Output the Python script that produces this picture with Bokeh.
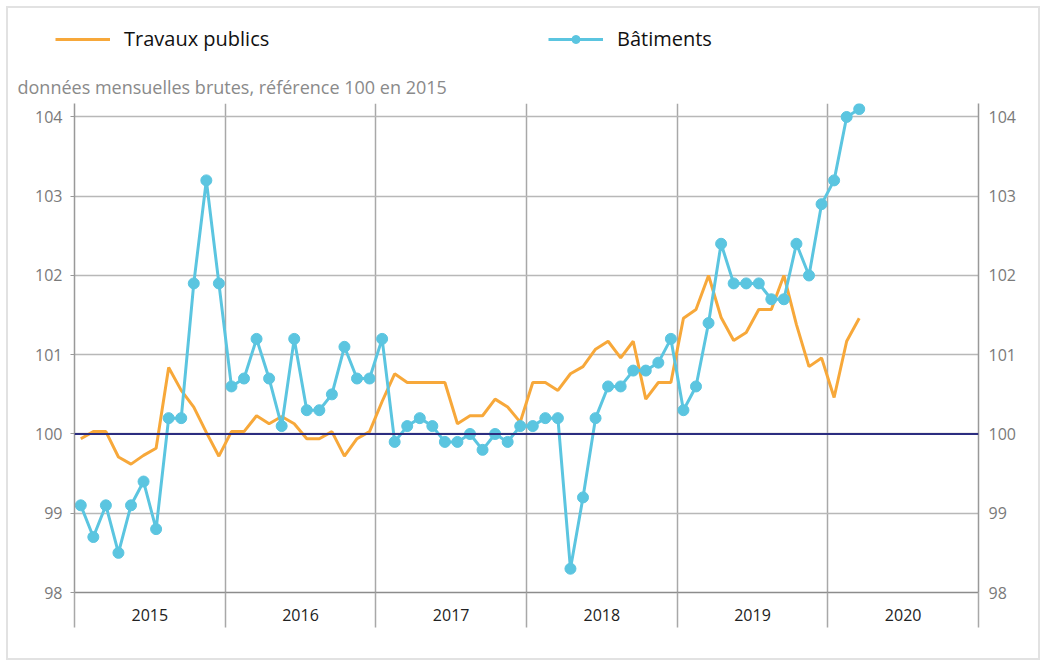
from bokeh.plotting import figure
from bokeh.layouts import column
from bokeh.models import (Range1d, LinearAxis, FixedTicker, Legend, LegendItem,
                          Label, Span)
from bokeh.embed import file_html
from bokeh.resources import INLINE

years = [2015, 2016, 2017, 2018, 2019, 2020]
y_ticks = [98, 99, 100, 101, 102, 103, 104]

travaux_publics = [
    99.94, 100.03, 100.03, 99.71, 99.62, 99.73, 99.82, 100.84, 100.55, 100.34, 100.02, 99.72,
    100.03, 100.03, 100.23, 100.13, 100.22, 100.13, 99.94, 99.94, 100.03, 99.72, 99.94, 100.03,
    100.41, 100.76, 100.65, 100.65, 100.65, 100.65, 100.13, 100.23, 100.23, 100.44, 100.34, 100.15,
    100.65, 100.65, 100.55, 100.76, 100.85, 101.07, 101.17, 100.96, 101.17, 100.44, 100.65, 100.65,
    101.46, 101.57, 102.00, 101.47, 101.18, 101.28, 101.57, 101.57, 102.00, 101.38, 100.85, 100.96,
    100.46, 101.17, 101.46,
]
batiments = [
    99.1, 98.7, 99.1, 98.5, 99.1, 99.4, 98.8, 100.2, 100.2, 101.9, 103.2, 101.9,
    100.6, 100.7, 101.2, 100.7, 100.1, 101.2, 100.3, 100.3, 100.5, 101.1, 100.7, 100.7,
    101.2, 99.9, 100.1, 100.2, 100.1, 99.9, 99.9, 100.0, 99.8, 100.0, 99.9, 100.1,
    100.1, 100.2, 100.2, 98.3, 99.2, 100.2, 100.6, 100.6, 100.8, 100.8, 100.9, 101.2,
    100.3, 100.6, 101.4, 102.4, 101.9, 101.9, 101.9, 101.7, 101.7, 102.4, 102.0, 102.9,
    103.2, 104.0, 104.1,
]

x_tp = [years[0] + (i + 0.5) / 12 for i in range(len(travaux_publics))]
x_bat = [years[0] + (i + 0.5) / 12 for i in range(len(batiments))]
boundaries = years + [years[-1] + 1]
centers = [y + 0.5 for y in years]

ORANGE = "#f7a83a"
BLUE = "#5bc5e0"
NAVY = "#2b2d80"
FONT = "Open Sans"
W = 1030
H_TOP = 92
H_MAIN = 558

# ---------------- header (legend + subtitle) ----------------
h = figure(width=W, height=H_TOP, output_backend="svg", toolbar_location=None,
           x_range=Range1d(boundaries[0], boundaries[-1]), y_range=Range1d(0, 1),
           min_border=0, x_axis_location=None, y_axis_location=None)
h.outline_line_color = None
h.grid.visible = False
h.background_fill_color = "white"
h.border_fill_color = "white"
# same series, out of the header's y range: only their legend glyphs show
h_tp = h.line(x_tp, travaux_publics, line_color=ORANGE, line_width=3)
h_bl = h.line(x_bat, batiments, line_color=BLUE, line_width=3)
h_bc = h.scatter(x_bat, batiments, size=10, fill_color=BLUE, line_color=BLUE)

legend = Legend(items=[LegendItem(label="Travaux publics", renderers=[h_tp]),
                       LegendItem(label="Bâtiments", renderers=[h_bl, h_bc])],
                orientation="horizontal", location=(47, 48),
                label_text_font=FONT, label_text_font_size="20px",
                label_text_color="#111111",
                glyph_width=55, glyph_height=20, label_height=20,
                label_standoff=14, label_width=170, spacing=254,
                padding=0, margin=0, border_line_color=None,
                background_fill_alpha=0)
h.add_layout(legend)
h.add_layout(Label(x=9, y=14, x_units="screen", y_units="screen",
                   text="données mensuelles brutes, référence 100 en 2015",
                   text_font=FONT, text_font_size="18px", text_color="#8a8a8a",
                   text_baseline="middle"))

# ---------------- main chart ----------------
p = figure(width=W, height=H_MAIN, output_backend="svg", toolbar_location=None,
           x_range=Range1d(boundaries[0], boundaries[-1]),
           y_range=Range1d(98, 104.17),
           min_border_left=66, min_border_right=60, min_border_top=3,
           min_border_bottom=66, y_axis_location=None)
p.outline_line_color = None
p.background_fill_color = "white"
p.border_fill_color = "white"

if "frame_align" in h.properties():
    h.frame_align = False
    p.frame_align = False

p.xgrid.ticker = FixedTicker(ticks=boundaries)
p.xgrid.grid_line_color = "#a8a8a8"
p.xgrid.grid_line_width = 1.5
p.ygrid.ticker = FixedTicker(ticks=y_ticks)
p.ygrid.grid_line_color = "#b8b8b8"
p.ygrid.grid_line_width = 1.5

xa = p.xaxis[0]
xa.ticker = FixedTicker(ticks=centers, minor_ticks=boundaries)
xa.major_label_overrides = {c: str(y) for c, y in zip(centers, years)}
xa.major_tick_out = 0
xa.major_tick_in = 0
xa.minor_tick_out = 35
xa.minor_tick_in = 0
xa.minor_tick_line_color = "#a8a8a8"
xa.minor_tick_line_width = 1.5
xa.axis_line_color = "#8c8c8c"
xa.axis_line_width = 1.5
xa.major_label_standoff = -19
xa.major_label_text_font = FONT
xa.major_label_text_font_size = "16px"
xa.major_label_text_color = "#222222"

for side in ("left", "right"):
    ax = LinearAxis(ticker=FixedTicker(ticks=y_ticks))
    ax.axis_line_color = "#999999"
    ax.axis_line_width = 1.5
    ax.major_tick_line_color = "#999999"
    ax.major_tick_out = 4 if side == "left" else 0
    ax.major_tick_in = 0
    ax.minor_tick_out = 0
    ax.minor_tick_in = 0
    ax.major_label_standoff = 8 if side == "left" else 10
    ax.major_label_text_font = FONT
    ax.major_label_text_font_size = "16px"
    ax.major_label_text_color = "#7a7a7a"
    p.add_layout(ax, side)

p.add_layout(Span(location=100, dimension="width", line_color=NAVY, line_width=2))

p.line(x_tp, travaux_publics, line_color=ORANGE, line_width=3)
p.line(x_bat, batiments, line_color=BLUE, line_width=3)
p.scatter(x_bat, batiments, size=11, fill_color=BLUE, line_color=BLUE)

layout = column(h, p, spacing=0,
                styles={"border": "2px solid #e2e2e2", "margin": "6px"})

open("out.html", "w").write(file_html(layout, INLINE))
